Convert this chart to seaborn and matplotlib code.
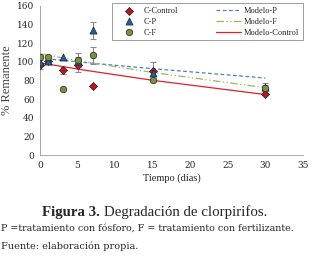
import matplotlib
matplotlib.use('Agg')
import matplotlib.pyplot as plt
import numpy as np
import pandas as pd
import seaborn as sns

# measured points (days, % remaining)
dias = [0, 1, 3, 5, 7, 15, 30]
control = [97, 101, 91, 97, 74, 90, 65]
control_err = [5, 0, 4, 8, 0, 10, 0]
fosforo = [100, 101, 105, 101, 134, 88, 73]
fosforo_err = [0, 0, 0, 0, 9, 0, 4]
fertil = [105, 105, 71, 102, 107, 81, 72]
fertil_err = [0, 0, 0, 7, 9, 0, 3]

# model curves
modelo_dias = [0, 1, 3, 5, 7, 15, 30]
modelo_control = [99, 97.6, 95.0, 92.3, 89.8, 80.2, 64.9]
modelo_p = [104, 103.2, 101.6, 100.1, 98.5, 92.7, 82.6]
modelo_f = [108.6, 107.1, 104.3, 101.5, 98.7, 88.6, 72.3]

sns.set_style("white")
plt.rcParams['font.family'] = ['Liberation Serif', 'DejaVu Serif']

fig = plt.figure(figsize=(3.2, 2.58), dpi=100)
ax = fig.add_axes([0.125, 0.399, 0.822, 0.578])

series = [('C-Control', control, control_err, 'D', '#C0141C', 17),
          ('C-P', fosforo, fosforo_err, '^', '#1F5FA8', 26),
          ('C-F', fertil, fertil_err, 'o', '#76923C', 22)]

for name, vals, err, mk, col, sz in series:
    x = np.array(dias)
    y = np.array(vals)
    e = np.array(err)
    m = e > 0
    ax.errorbar(x[m], y[m], yerr=e[m], fmt='none', ecolor='#8C8C8C',
                elinewidth=0.8, capsize=2, capthick=0.8, zorder=2)

for name, vals, err, mk, col, sz in series:
    df = pd.DataFrame({'dias': dias, 'valor': vals})
    sns.scatterplot(data=df, x='dias', y='valor', marker=mk, color=col,
                    s=sz, edgecolor='#222222', linewidth=0.5,
                    ax=ax, zorder=3, label=name)

mdf = pd.DataFrame({'dias': modelo_dias, 'p': modelo_p,
                    'f': modelo_f, 'c': modelo_control})
sns.lineplot(data=mdf, x='dias', y='p', color='#4F81BD', linewidth=0.9,
             linestyle=(0, (3, 2)), ax=ax, label='Modelo-P', zorder=1)
sns.lineplot(data=mdf, x='dias', y='f', color='#9BBB59', linewidth=0.9,
             linestyle=(0, (6, 2, 1, 2, 1, 2)), ax=ax, label='Modelo-F', zorder=1)
sns.lineplot(data=mdf, x='dias', y='c', color='#E0202A', linewidth=0.9,
             ax=ax, label='Modelo-Control', zorder=1)

ax.set_xlim(0, 35)
ax.set_ylim(0, 160)
ax.set_xticks(range(0, 36, 5))
ax.set_yticks(range(0, 161, 20))
ax.tick_params(labelsize=6.5, length=2, width=0.6, color='#A0A0A0', pad=2)
ax.tick_params(axis='y', length=0, pad=4)
for lab in ax.get_xticklabels() + ax.get_yticklabels():
    lab.set_family(['DejaVu Serif'])
for s in ['top', 'right']:
    ax.spines[s].set_visible(False)
for s in ['left', 'bottom']:
    ax.spines[s].set_color('#A6A6A6')
    ax.spines[s].set_linewidth(0.7)
ax.set_xlabel('Tiempo (días)', fontsize=7.5, labelpad=3)
ax.set_ylabel('% Remanente', fontsize=9, labelpad=3, color='#444444')

leg = ax.legend(ncol=2, loc='upper right', bbox_to_anchor=(1.0, 1.02),
                fontsize=6, frameon=True, fancybox=False, borderpad=0.45,
                labelspacing=0.35, handlelength=3.0, columnspacing=4.6,
                handletextpad=0.3, borderaxespad=0)
leg.get_frame().set_edgecolor('#707070')
leg.get_frame().set_linewidth(0.6)

t1 = fig.text(0.13, 0.178, 'Figura 3.', fontsize=10.7, fontweight='bold',
              ha='left', va='center')
ax.annotate('Degradación de clorpirifos.', xy=(1, 0.5), xycoords=t1,
            xytext=(3, 0), textcoords='offset points', fontsize=10.7,
            ha='left', va='center', annotation_clip=False)
fig.text(0.003, 0.115, 'P =tratamiento con fósforo, F = tratamiento con fertilizante.',
         fontsize=6.8, family=['DejaVu Serif'], ha='left', va='center')
fig.text(0.003, 0.047, 'Fuente: elaboración propia.', fontsize=7.0,
         family=['DejaVu Serif'], ha='left', va='center')

fig.savefig('out.png', dpi=100)
